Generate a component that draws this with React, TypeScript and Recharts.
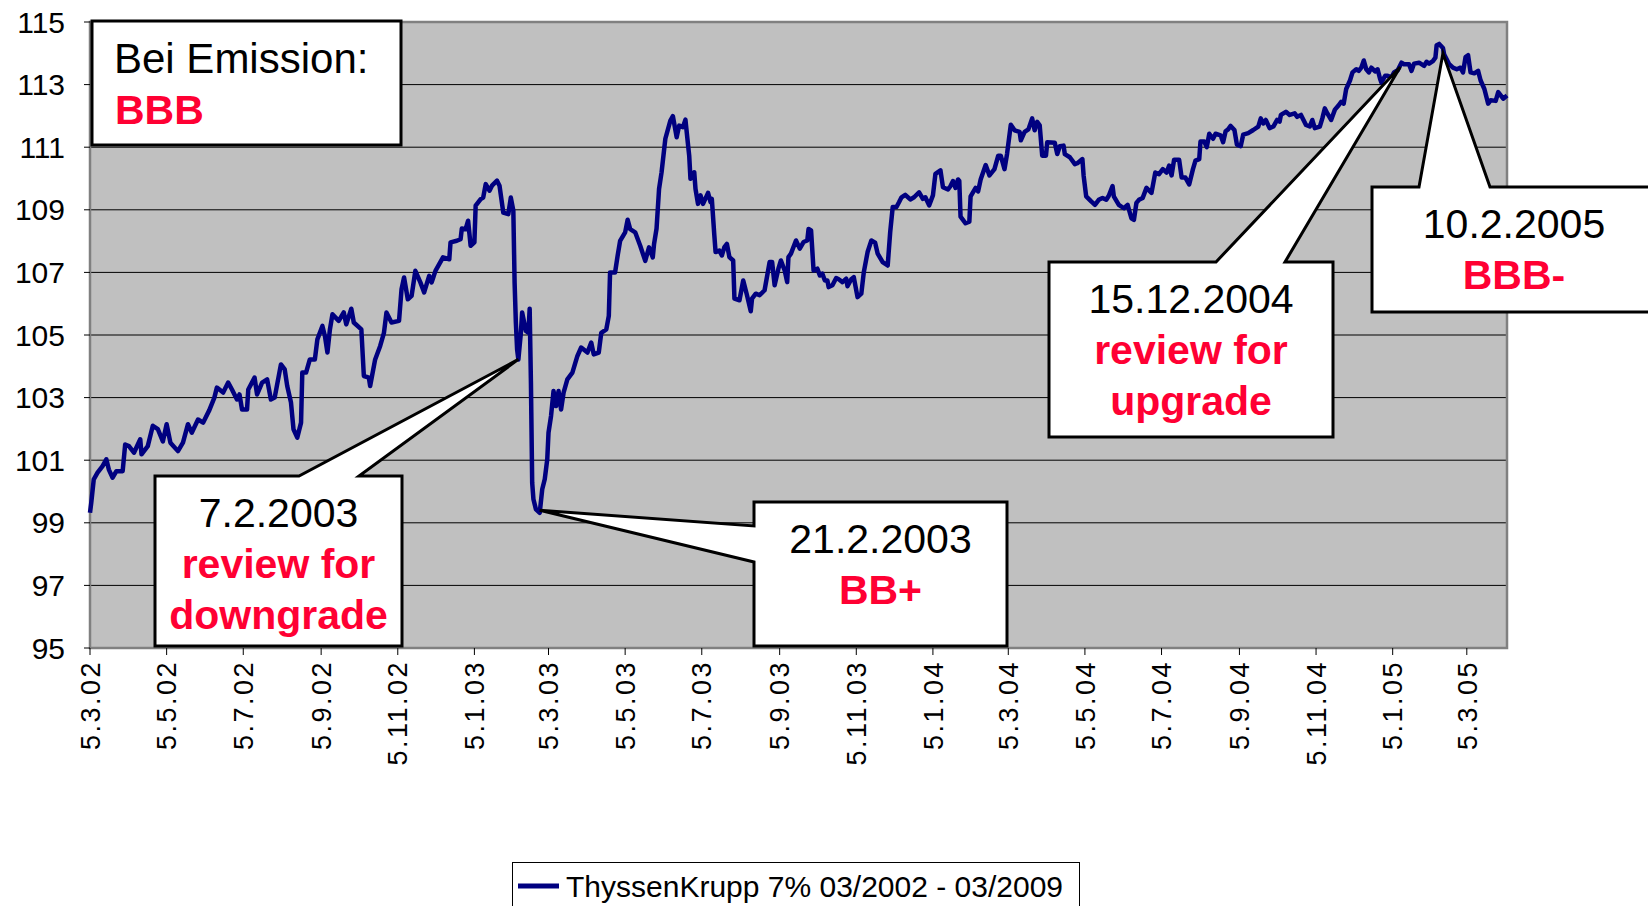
import React from "react";
import {
  LineChart,
  Line,
  XAxis,
  YAxis,
  CartesianGrid,
  ReferenceArea,
  ReferenceDot,
} from "recharts";

const SERIES_NAME = "ThyssenKrupp 7% 03/2002 - 03/2009";
const FONT = "'Liberation Sans', Arial, Helvetica, sans-serif";
const RED = "#FF0033";
const NAVY = "#000080";

// x axis labels, every second month on the 5th
const tickLabels = [
  "5.3.02", "5.5.02", "5.7.02", "5.9.02", "5.11.02", "5.1.03", "5.3.03",
  "5.5.03", "5.7.03", "5.9.03", "5.11.03", "5.1.04", "5.3.04", "5.5.04",
  "5.7.04", "5.9.04", "5.11.04", "5.1.05", "5.3.05",
];
const yTicks = [95, 97, 99, 101, 103, 105, 107, 109, 111, 113, 115];

// days since 5.3.2002
const days = [
  0, 1, 3, 6, 10, 13, 15, 18, 21, 26, 28, 31, 35, 40, 41, 46, 50, 54, 58, 61,
  64, 70, 74, 78, 81, 86, 90, 95, 99, 101, 106, 110, 113, 117, 119, 121, 125, 126, 131, 133,
  137, 141, 144, 147, 152, 155, 157, 160, 162, 165, 168, 169, 172, 175, 179, 181, 185, 187, 189, 191,
  193, 198, 202, 204, 208, 210, 216, 218, 222, 223, 227, 231, 234, 236, 240, 246, 248, 250, 253, 256,
  259, 263, 266, 270, 272, 275, 281, 286, 287, 292, 295, 296, 299, 301, 303, 306, 307, 311, 313, 315,
  318, 320, 324, 326, 329, 333, 335, 337, 338, 339, 340, 341, 343, 344, 347, 349, 350, 351, 352, 353,
  355, 358, 360, 362, 364, 365, 367, 369, 371, 373, 375, 377, 380, 384, 388, 391, 396, 399, 401, 405,
  407, 411, 413, 414, 418, 420, 422, 426, 428, 430, 434, 438, 442, 445, 448, 449, 451, 453, 455, 458,
  462, 464, 467, 469, 472, 474, 476, 477, 478, 481, 482, 484, 486, 488, 492, 494, 495, 497, 498, 501,
  503, 505, 507, 509, 512, 513, 517, 520, 523, 526, 527, 530, 533, 537, 541, 543, 545, 548, 550, 553,
  555, 556, 558, 562, 565, 568, 571, 572, 574, 576, 579, 581, 583, 585, 587, 588, 591, 594, 596, 599,
  602, 603, 606, 608, 611, 614, 616, 619, 622, 625, 627, 631, 635, 637, 639, 642, 644, 646, 649, 653,
  656, 660, 663, 665, 668, 671, 673, 677, 679, 683, 685, 687, 689, 691, 692, 693, 697, 700, 701, 705,
  707, 709, 713, 716, 720, 723, 725, 728, 730, 733, 736, 740, 741, 744, 747, 750, 752, 754, 756, 758,
  761, 762, 768, 770, 772, 775, 776, 780, 784, 786, 790, 791, 793, 797, 800, 803, 806, 809, 811, 814,
  815, 819, 823, 826, 829, 831, 833, 835, 838, 841, 845, 848, 851, 854, 857, 859, 861, 863, 867, 869,
  872, 875, 878, 880, 883, 884, 887, 889, 891, 894, 896, 900, 902, 904, 906, 908, 911, 913, 916, 918,
  922, 926, 930, 932, 934, 936, 939, 942, 945, 947, 948, 952, 955, 959, 961, 964, 966, 968, 971, 973,
  975, 979, 981, 983, 985, 988, 991, 994, 996, 998, 1000, 1003, 1005, 1008, 1010, 1012, 1014, 1016, 1018, 1020,
  1023, 1025, 1027, 1028, 1031, 1033, 1036, 1038, 1041, 1044, 1046, 1050, 1052, 1054, 1058, 1062, 1064, 1066, 1069, 1071,
  1072, 1074, 1077, 1078, 1082, 1085, 1088, 1091, 1093, 1095, 1097, 1099, 1102, 1105, 1107, 1110, 1113, 1115, 1119, 1121,
  1125, 1128,
];

const prices = [
  99.32, 99.64, 100.39, 100.6, 100.81, 101.03, 100.7, 100.44, 100.65, 100.65, 101.5, 101.45, 101.24, 101.67, 101.19, 101.45, 102.1, 101.99, 101.6, 102.15,
  101.56, 101.29, 101.56, 102.15, 101.88, 102.3, 102.2, 102.6, 103.0, 103.32, 103.16, 103.48, 103.26, 102.94, 103.1, 102.62, 102.62, 103.26, 103.64, 103.1,
  103.48, 103.58, 102.94, 103.0, 104.06, 103.9, 103.37, 102.84, 101.99, 101.72, 102.2, 103.8, 103.8, 104.22, 104.22, 104.86, 105.29, 104.97, 104.44, 105.18,
  105.66, 105.45, 105.72, 105.34, 105.84, 105.4, 105.18, 103.69, 103.64, 103.37, 104.22, 104.65, 105.07, 105.72, 105.4, 105.45, 106.46, 106.84, 106.14, 106.25,
  107.05, 106.68, 106.36, 106.89, 106.68, 107.05, 107.48, 107.42, 107.96, 108.01, 108.06, 108.4, 108.38, 108.65, 107.85, 107.96, 109.13, 109.34, 109.39, 109.82,
  109.61, 109.77, 109.93, 109.77, 108.91, 108.86, 109.39, 108.97, 106.68, 105.4, 104.54, 104.22, 105.07, 105.72, 105.13, 105.07, 105.84, 103.48, 100.28, 99.75,
  99.43, 99.32, 100.07, 100.39, 101.03, 101.88, 102.41, 103.21, 102.73, 103.21, 102.62, 103.16, 103.58, 103.8, 104.33, 104.6, 104.44, 104.76, 104.38, 104.44,
  105.07, 105.18, 105.61, 107.0, 107.0, 107.53, 108.01, 108.28, 108.68, 108.38, 108.28, 107.85, 107.37, 107.8, 107.48, 107.9, 108.4, 109.67, 110.2, 111.27,
  111.85, 111.99, 111.32, 111.69, 111.64, 111.88, 111.1, 110.73, 109.99, 110.2, 109.67, 109.19, 109.46, 109.19, 109.54, 109.24, 109.35, 108.18, 107.65, 107.7,
  107.54, 107.81, 107.91, 107.49, 107.38, 106.16, 106.11, 106.74, 106.27, 105.76, 106.16, 106.32, 106.27, 106.43, 107.33, 107.33, 106.59, 107.12, 107.38, 107.06,
  106.69, 107.49, 107.6, 108.02, 107.76, 107.97, 108.02, 108.39, 108.34, 107.06, 107.12, 106.9, 106.96, 106.74, 106.74, 106.53, 106.59, 106.82, 106.78, 106.69,
  106.8, 106.56, 106.78, 106.85, 106.21, 106.32, 107.01, 107.65, 108.02, 107.95, 107.6, 107.33, 107.22, 108.29, 109.09, 109.09, 109.24, 109.4, 109.48, 109.33,
  109.4, 109.56, 109.35, 109.4, 109.14, 109.46, 110.15, 110.26, 109.72, 109.65, 109.76, 109.92, 109.7, 109.97, 109.92, 108.78, 108.57, 108.62, 109.43, 109.7,
  109.59, 109.97, 110.43, 110.1, 110.3, 110.73, 110.73, 110.3, 110.78, 111.72, 111.54, 111.49, 111.22, 111.49, 111.57, 111.92, 111.54, 111.81, 111.7, 110.73,
  110.73, 111.16, 111.14, 110.78, 111.03, 111.05, 110.78, 110.68, 110.46, 110.49, 110.62, 110.08, 109.43, 109.27, 109.16, 109.32, 109.38, 109.32, 109.45, 109.76,
  109.43, 109.16, 109.05, 109.16, 108.73, 108.68, 109.22, 109.32, 109.38, 109.7, 109.54, 110.19, 110.14, 110.3, 110.19, 110.41, 110.1, 110.6, 110.6, 110.03,
  110.03, 109.81, 110.3, 110.57, 110.62, 111.18, 111.18, 111.0, 111.43, 111.27, 111.43, 111.38, 111.16, 111.51, 111.57, 111.68, 111.55, 111.08, 111.03, 111.4,
  111.45, 111.55, 111.66, 111.92, 111.76, 111.87, 111.61, 111.66, 111.87, 111.82, 112.03, 112.13, 112.03, 112.08, 111.97, 112.03, 111.87, 111.71, 111.66, 111.87,
  111.61, 111.66, 111.92, 112.24, 112.08, 111.87, 112.2, 112.34, 112.45, 112.39, 112.86, 113.13, 113.39, 113.49, 113.44, 113.54, 113.77, 113.49, 113.39, 113.54,
  113.42, 113.49, 113.18, 113.07, 113.28, 113.28, 113.23, 113.39, 113.46, 113.7, 113.65, 113.65, 113.44, 113.67, 113.7, 113.6, 113.73, 113.67, 113.75, 113.86,
  114.26, 114.3, 114.17, 113.96, 113.65, 113.54, 113.49, 113.54, 113.39, 113.88, 113.94, 113.39, 113.36, 113.44, 113.13, 112.86, 112.39, 112.5, 112.48, 112.76,
  112.55, 112.65,
];

// rating events: where the callout points, and its text
const eventDays = [341, 358, 1043, 1077];
const eventPrices = [104.22, 99.4, 113.56, 114.0];
const eventDates = ["7.2.2003", "21.2.2003", "15.12.2004", "10.2.2005"];
const eventRatings = [
  ["review for", "downgrade"],
  ["BB+"],
  ["review for", "upgrade"],
  ["BBB-"],
];

// callout boxes (pixels): box, side of the pointer and the two base points on that side
const calloutBoxes = [
  { x: 155, y: 476, w: 247, h: 170, side: "top", a: 299, b: 359 },
  { x: 754, y: 502, w: 253, h: 144, side: "left", a: 526, b: 562 },
  { x: 1049, y: 262, w: 284, h: 175, side: "top", a: 1216, b: 1285 },
  { x: 1372, y: 187, w: 290, h: 125, side: "top", a: 1419, b: 1490 },
];

const START = Date.UTC(2002, 2, 5);
const labelToDay = (label: string) => {
  const [d, m, y] = label.split(".").map(Number);
  return Math.round((Date.UTC(2000 + y, m - 1, d) - START) / 86400000);
};
const tickDays = tickLabels.map(labelToDay);
const labelByDay = new Map(tickDays.map((d, i) => [d, tickLabels[i]]));

const data = days.map((day, i) => ({ day, price: prices[i] }));

function DateTick({ x, y, payload }: any) {
  return (
    <text
      x={x}
      y={y}
      transform={`rotate(-90 ${x} ${y})`}
      textAnchor="end"
      dy="0.36em"
      fontFamily={FONT}
      fontSize={27}
      letterSpacing={2.5}
      fill="#000"
    >
      {labelByDay.get(payload.value)}
    </text>
  );
}

function Callout({ cx, cy, box, date, lines }: any) {
  const { x, y, w, h, side, a, b } = box;
  let d: string;
  if (side === "top") {
    d = `M${x},${y} L${a},${y} L${cx},${cy} L${b},${y} L${x + w},${y} L${x + w},${y + h} L${x},${y + h} Z`;
  } else {
    d = `M${x},${y} L${x + w},${y} L${x + w},${y + h} L${x},${y + h} L${x},${b} L${cx},${cy} L${x},${a} Z`;
  }
  const mid = x + Math.min(w, 284) / 2;
  return (
    <g>
      <path d={d} fill="#fff" stroke="#000" strokeWidth={3} strokeLinejoin="miter" />
      <text x={mid} y={y + 51} textAnchor="middle" fontFamily={FONT} fontSize={41} fill="#000">
        {date}
      </text>
      {lines.map((t: string, i: number) => (
        <text
          key={t}
          x={mid}
          y={y + 102 + i * 51}
          textAnchor="middle"
          fontFamily={FONT}
          fontSize={41}
          fontWeight="bold"
          fill={RED}
        >
          {t}
        </text>
      ))}
    </g>
  );
}

export default function App() {
  return (
    <div style={{ position: "absolute", left: 0, top: 0, width: 1648, height: 906, background: "#fff" }}>
      <LineChart
        width={1648}
        height={906}
        data={data}
        margin={{ top: 22, right: 141, left: 10, bottom: 158 }}
      >
        <CartesianGrid
          vertical={false}
          stroke="#000"
          strokeWidth={1}
          fill="#C0C0C0"
          fillOpacity={1}
        />
        <ReferenceArea
          x1={0}
          x2={1128}
          y1={95}
          y2={115}
          fill="none"
          fillOpacity={0}
          stroke="#808080"
          strokeWidth={2.5}
        />
        <XAxis
          type="number"
          dataKey="day"
          domain={[0, 1128]}
          ticks={tickDays}
          interval={0}
          height={100}
          axisLine={false}
          tickLine={{ stroke: "#000" }}
          tickSize={7}
          tickMargin={5}
          tick={<DateTick />}
        />
        <YAxis
          domain={[95, 115]}
          ticks={yTicks}
          interval={0}
          width={80}
          axisLine={false}
          tickLine={{ stroke: "#000" }}
          tickSize={6}
          tickMargin={19}
          tick={{ fontFamily: FONT, fontSize: 30, fill: "#000" }}
        />
        <Line
          type="linear"
          dataKey="price"
          name={SERIES_NAME}
          stroke={NAVY}
          strokeWidth={4.5}
          strokeLinejoin="round"
          dot={false}
          activeDot={false}
          isAnimationActive={false}
        />
        {eventDays.map((day, i) => (
          <ReferenceDot
            key={eventDates[i]}
            x={day}
            y={eventPrices[i]}
            r={0}
            shape={(p: any) => (
              <Callout
                cx={p.cx}
                cy={p.cy}
                box={calloutBoxes[i]}
                date={eventDates[i]}
                lines={eventRatings[i]}
              />
            )}
          />
        ))}
      </LineChart>

      <svg
        width={1648}
        height={906}
        style={{ position: "absolute", left: 0, top: 0, pointerEvents: "none" }}
      >
        <rect x={92} y={21} width={309} height={124} fill="#fff" stroke="#000" strokeWidth={3} />
        <text x={114} y={73} fontFamily={FONT} fontSize={42} fill="#000">
          Bei Emission:
        </text>
        <text x={115} y={124} fontFamily={FONT} fontSize={41} fontWeight="bold" fill={RED}>
          BBB
        </text>

        <rect x={512.5} y={862.5} width={567} height={60} fill="#fff" stroke="#000" strokeWidth={1} />
        <line x1={518} x2={559} y1={886} y2={886} stroke={NAVY} strokeWidth={5} />
        <text x={566} y={897} fontFamily={FONT} fontSize={30} fill="#000">
          {SERIES_NAME}
        </text>
      </svg>
    </div>
  );
}
